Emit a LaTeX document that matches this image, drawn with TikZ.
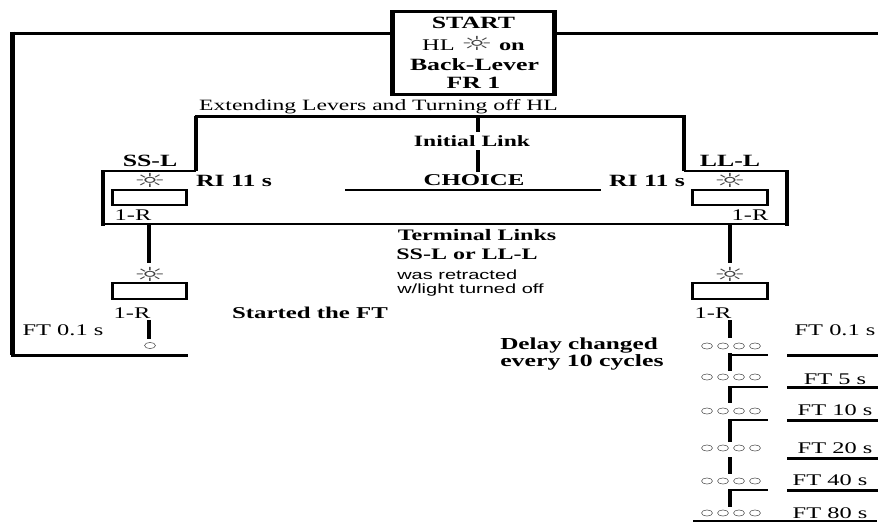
\documentclass[tikz,border=0pt]{standalone}
\usepackage{fontspec}
\usetikzlibrary{shapes.geometric}
\setmainfont[FakeStretch=1.5]{Liberation Serif}
\newfontfamily\sansstretch[FakeStretch=1.5]{Liberation Sans}
\newfontfamily\symstretch[FakeStretch=1.85]{DejaVu Sans}
\newcommand{\sunmark}{{\fontsize{14.5}{14}\symstretch\textcolor{black!75}{\char"263C}}}
\tikzset{
  x=0.75pt,y=-0.75pt,
  hline/.style={line width=2.25pt},
  vline/.style={line width=3.4pt},
  thinh/.style={line width=1.5pt},
  boxh/.style={line width=1.8pt},
  boxv/.style={line width=2.7pt},
  lab/.style={inner sep=0pt,font=\fontsize{12.2}{13}\selectfont},
  blab/.style={inner sep=0pt,font=\fontsize{12.4}{13}\selectfont\bfseries},
  bigb/.style={inner sep=0pt,font=\fontsize{12.9}{13}\selectfont\bfseries},
  slab/.style={inner sep=0pt,font=\fontsize{10}{12}\selectfont\sansstretch,anchor=west},
  sunn/.style={inner sep=0pt},
  dot/.style={ellipse,draw=black!70,line width=0.4pt,minimum width=8.2pt,minimum height=4.6pt,inner sep=0pt},
}
\begin{document}
\begin{tikzpicture}
\useasboundingbox (0,0) rectangle (878,522);
% START box
\coordinate (stNW) at (392.5,11); \coordinate (stNE) at (554.5,11);
\coordinate (stSW) at (392.5,94.5); \coordinate (stSE) at (554.5,94.5);
\draw[hline] (390,11) -- (557,11) (390,94.5) -- (557,94.5);
\draw[vline,line width=3.8pt] (stNW) -- (stSW) (stNE) -- (stSE);
\node[bigb] (tstart) at (473.5,22.5) {START};
\node[lab] (thl) at (473.5,44) {HL \sunmark{} \textbf{on}};
\node[bigb] (tback) at (474.5,64.5) {Back-Lever};
\node[bigb] (tfr) at (473.5,83) {FR 1};
% outer loop
\coordinate (loopL1) at (12.5,31.5); \coordinate (loopL2) at (12.5,355.3);
\coordinate (loopEnd) at (188,355.3); \coordinate (loopR) at (878,33);
\draw[vline] (loopL1) -- (loopL2);
\draw[hline] (10.5,33) -- (392,33);
\draw[hline] (555,33) -- (loopR);
\draw[hline] (10.5,355.3) -- (loopEnd);
% extending
\node[lab,font=\fontsize{11.8}{13}\selectfont] (text) at (378.5,106.5) {Extending Levers and Turning off HL};
\coordinate (exL) at (196,115.5); \coordinate (exR) at (684,115.5); \coordinate (exM) at (478,116.5);
\draw[hline] (194.5,116.5) -- (685.8,116.5);
\coordinate (exLb) at (196,171); \coordinate (exRb) at (684,171);
\draw[vline] (exL) -- (exLb); \draw[vline] (exR) -- (exRb);
\node[blab,font=\fontsize{11.8}{13}\selectfont\bfseries] (tinit) at (472,141) {Initial Link};
\node[blab] (tchoice) at (474,180) {CHOICE};
\draw[vline] (exM) -- (478,131.5);
\draw[vline] (478,150) -- (478,172);
% choice frame
\draw[boxh] (101,171) -- (exLb) (exRb) -- (789,171) (101,224) -- (789,224);
\draw[vline] (103,170) -- (103,226);
\draw[vline] (787,170) -- (787,226);
\draw[thinh] (345,190) -- (601,190);
\node[bigb] (trl) at (234,181) {RI 11 s};
\node[bigb] (trr) at (647,181) {RI 11 s};
\node[bigb] (tss) at (150,161) {SS-L};
\node[bigb] (tll) at (730,161) {LL-L};
\node[sunn] (s1) at (150,180) {\sunmark};
\node[sunn] (s2) at (730,180) {\sunmark};
% small boxes
\foreach \n/\a/\b/\c/\d in {b1/112.5/186.5/190/205,b2/692.5/767.5/190/205,b3/112.5/186.5/283/299,b4/692.5/767.5/283/299}{
  \draw[boxh] (\a-1.7,\c) -- (\b+1.7,\c) (\a-1.7,\d) -- (\b+1.7,\d);
  \draw[boxv] (\a,\c) -- (\a,\d) (\b,\c) -- (\b,\d);
}
\node[lab] (r1) at (133,215) {1-R};
\node[lab] (r2) at (750,215) {1-R};
% terminal
\node[blab,font=\fontsize{12}{13}\selectfont\bfseries] (tterm) at (477,235) {Terminal Links};
\node[blab,font=\fontsize{12}{13}\selectfont\bfseries] (tor) at (467,254) {SS-L or LL-L};
\node[slab] (twas) at (397,275) {was retracted};
\node[slab] (tw) at (397,290) {w/light turned off};
\node[blab] (tstarted) at (310,313) {Started the FT};
\coordinate (dl1) at (149,225); \coordinate (dl2) at (149,263);
\coordinate (dr1) at (730,225); \coordinate (dr2) at (730,263);
\draw[vline] (dl1) -- (dl2) (dr1) -- (dr2);
\node[sunn] (s3) at (150,274) {\sunmark};
\node[sunn] (s4) at (730,274) {\sunmark};
\node[lab] (r3) at (132,313) {1-R};
\node[lab] (r4) at (713,313) {1-R};
\node[lab] (ft0) at (63,330) {FT 0.1 s};
\draw[vline] (149,320) -- (149,339);
\node[dot] (cl) at (150,345.5) {};
\draw[vline] (730,320) -- (730,338);
% right column
\foreach \y in {346,377,411,448,481,513}{
  \foreach \x in {707,723,739,755}{ \node[dot] at (\x,\y) {}; }
}
\foreach \t/\b in {353/371,386/403,419/442,457/474,489/507}{ \draw[vline] (730,\t) -- (730,\b); }
\foreach \y in {355,387,420,490}{ \draw[boxh] (730,\y) -- (768,\y); }
\foreach \y in {355,387,420,458,490}{ \draw[hline] (787,\y) -- (878,\y); }
\draw[line width=1.1pt] (693,521) -- (877,521);
\node[lab] (f1) at (835,330) {FT 0.1 s};
\node[lab] (f2) at (835,379) {FT 5 s};
\node[lab] (f3) at (835,410) {FT 10 s};
\node[lab] (f4) at (835,448) {FT 20 s};
\node[lab] (f5) at (830,480) {FT 40 s};
\node[lab] (f6) at (830,513) {FT 80 s};
\node[bigb,anchor=west,font=\fontsize{12.6}{13}\selectfont\bfseries] (d1) at (500,346) {Delay changed};
\node[bigb,anchor=west,font=\fontsize{12.9}{13}\selectfont\bfseries] (d2) at (500,362.5) {every 10 cycles};
\end{tikzpicture}
\end{document}
